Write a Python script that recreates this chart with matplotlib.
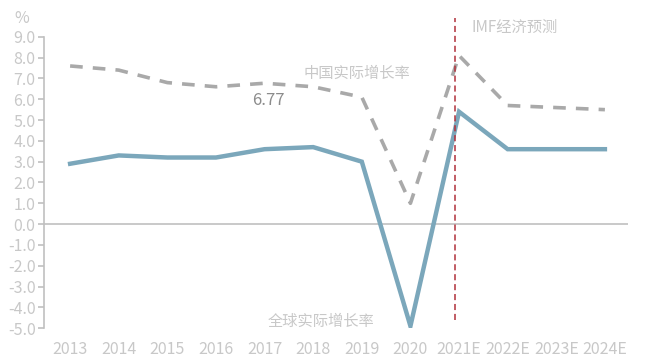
import matplotlib

matplotlib.use("Agg")
import matplotlib.pyplot as plt

plt.rcParams["font.family"] = ["Noto Sans CJK SC", "DejaVu Sans"]

years = ["2013", "2014", "2015", "2016", "2017", "2018", "2019", "2020",
         "2021E", "2022E", "2023E", "2024E"]
china_growth = [7.6, 7.4, 6.8, 6.6, 6.77, 6.6, 6.1, 1.0, 8.1, 5.7, 5.6, 5.5]
world_growth = [2.9, 3.3, 3.2, 3.2, 3.6, 3.7, 3.0, -4.9, 5.4, 3.6, 3.6, 3.6]
y_ticks = [-5, -4, -3, -2, -1, 0, 1, 2, 3, 4, 5, 6, 7, 8, 9]
forecast_start = "2021E"

TXT = "#c8c8c8"
AXIS = "#c0c0c0"

fig = plt.figure(figsize=(6.45, 3.61), dpi=100)
ax = fig.add_axes([0.068, 0.091, 0.906, 0.807])

x = list(range(len(years)))
ax.plot(x, world_growth, color="#7ba7bb", lw=3.2, solid_joinstyle="miter", zorder=3)
ax.plot(x, china_growth, color="#a9a9a9", lw=2.6, ls=(0, (3.5, 2.8)), zorder=3)

# forecast divider, a touch left of the 2021E tick as in the source
fx = years.index(forecast_start)
ax.plot([fx - 0.08, fx - 0.08], [-4.6, 9.9], color="#b0303a", lw=1.1,
        ls=(0, (4, 2.5)), clip_on=False, zorder=4)

ax.set_xlim(-0.54, 11.48)
ax.set_ylim(-5, 9)
ax.set_yticks(y_ticks)
ax.set_yticklabels([f"{v:.1f}" for v in y_ticks])
ax.set_xticks(x)
ax.set_xticklabels(years)

for side in ("top", "right", "bottom"):
    ax.spines[side].set_visible(False)
ax.spines["left"].set_color(AXIS)
ax.spines["left"].set_linewidth(1.2)
ax.axhline(0, color=AXIS, lw=1.2, zorder=1)

ax.tick_params(axis="y", colors=AXIS, labelcolor=TXT, labelsize=11.5,
               length=4, width=1.2, pad=2)
ax.tick_params(axis="x", length=0, labelcolor=TXT, labelsize=11.5, pad=9)

fig.text(0.022, 0.95, "%", color=TXT, fontsize=11.5, va="center")
ax.text(5.9, 7.25, "中国实际增长率", color=TXT, fontsize=11, ha="center", va="center")
ax.text(4.07, 5.95, "6.77", color="#8c8c8c", fontsize=12, ha="center", va="center")
ax.text(9.14, 9.47, "IMF经济预测", color=TXT, fontsize=11, ha="center", va="center",
        clip_on=False)
ax.text(5.16, -4.66, "全球实际增长率", color=TXT, fontsize=11, ha="center", va="center")

fig.savefig("out.png", dpi=100)
